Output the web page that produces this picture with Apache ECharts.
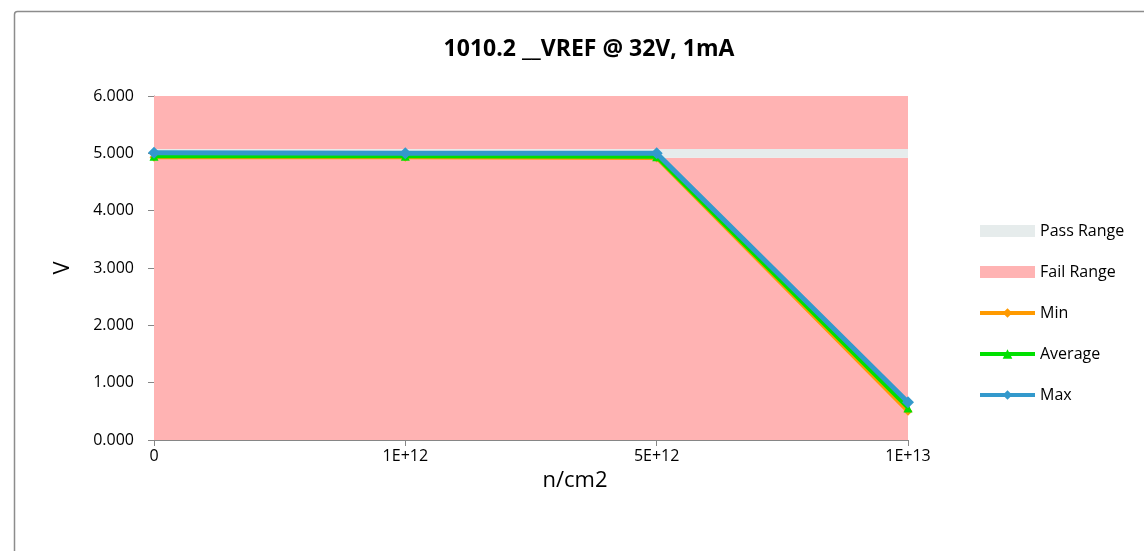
<!DOCTYPE html>
<html>
<head>
<meta charset="utf-8">
<script src="https://cdn.jsdelivr.net/npm/echarts@6/dist/echarts.min.js"></script>
<style>html,body{margin:0;padding:0;background:#fff}#c{width:1144px;height:551px}</style>
</head>
<body>
<div id="c"></div>
<script>
var categories = ['0', '1E+12', '5E+12', '1E+13'];
var failLower = [4.925, 4.925, 4.925, 4.925];
var passBand = [0.15, 0.15, 0.15, 0.15];
var failUpper = [0.925, 0.925, 0.925, 0.925];
var minVals = [4.93, 4.93, 4.92, 0.50];
var avgVals = [4.95, 4.95, 4.94, 0.56];
var maxVals = [5.01, 5.00, 5.00, 0.66];
var yTicks = [0, 1, 2, 3, 4, 5, 6];

var FONT = '"Open Sans", Lato, sans-serif';
var chart = echarts.init(document.getElementById('c'), null, {renderer: 'canvas'});
chart.setOption({
  animation: false,
  backgroundColor: '#fff',
  graphic: [{
    type: 'rect', left: 12, top: 9, z: -10,
    shape: {width: 1150, height: 560, r: 3},
    style: {fill: 'none', stroke: '#8c8c8c', lineWidth: 1.5}
  }],
  title: {
    text: '1010.2 __VREF @ 32V, 1mA',
    left: 584, top: 33, textAlign: 'center',
    textStyle: {fontFamily: FONT, fontWeight: 'bold', fontSize: 23, color: '#000'}
  },
  grid: {left: 154, right: 236, top: 96, bottom: 111, containLabel: false},
  legend: {
    orient: 'vertical', left: 973, top: 218, itemGap: 25,
    itemWidth: 55, itemHeight: 12,
    textStyle: {fontFamily: FONT, fontSize: 16, color: '#000'},
    data: [
      {name: 'Pass Range', icon: 'rect', itemStyle: {color: '#E6ECEC'}},
      {name: 'Fail Range', icon: 'rect', itemStyle: {color: '#FFB3B3'}},
      {name: 'Min', lineStyle: {width: 4}},
      {name: 'Average', lineStyle: {width: 4}},
      {name: 'Max', lineStyle: {width: 4}}
    ]
  },
  xAxis: {
    type: 'category', data: categories, boundaryGap: false,
    name: 'n/cm2', nameLocation: 'middle', nameGap: 30,
    nameTextStyle: {fontFamily: FONT, fontSize: 22, color: '#000', padding: [0, 0, 0, 88]},
    axisLine: {lineStyle: {color: '#868686', width: 1}},
    axisTick: {show: true, length: 6, lineStyle: {color: '#868686'}},
    axisLabel: {fontFamily: FONT, fontSize: 16, color: '#000', margin: 8},
    splitLine: {show: false}
  },
  yAxis: {
    type: 'value', min: 0, max: 6, interval: 1,
    name: 'V', nameLocation: 'middle', nameGap: 80, nameRotate: 90,
    nameTextStyle: {fontFamily: FONT, fontSize: 22, color: '#000'},
    axisLine: {show: true, lineStyle: {color: '#868686', width: 1}},
    axisTick: {show: true, length: 6, lineStyle: {color: '#868686'}},
    axisLabel: {fontFamily: FONT, fontSize: 16, color: '#000', margin: 20,
      formatter: function (v) { return yTicks.indexOf(v) >= 0 ? v.toFixed(3) : ''; }},
    splitLine: {show: false}
  },
  series: [
    {name: 'Fail Range', type: 'line', stack: 'band', data: failLower, symbol: 'none',
     lineStyle: {width: 0}, areaStyle: {color: '#FFB3B3', opacity: 1}, itemStyle: {color: '#FFB3B3'}, z: 1},
    {name: 'Pass Range', type: 'line', stack: 'band', data: passBand, symbol: 'none',
     lineStyle: {width: 0}, areaStyle: {color: '#E6ECEC', opacity: 1}, itemStyle: {color: '#E6ECEC'}, z: 1},
    {name: 'Fail Range', type: 'line', stack: 'band', data: failUpper, symbol: 'none',
     lineStyle: {width: 0}, areaStyle: {color: '#FFB3B3', opacity: 1}, itemStyle: {color: '#FFB3B3'}, z: 1},
    {name: 'Min', type: 'line', data: minVals, symbol: 'diamond', symbolSize: 9,
     lineStyle: {color: '#FF9A00', width: 4}, itemStyle: {color: '#FF9A00'}, z: 3},
    {name: 'Average', type: 'line', data: avgVals, symbol: 'triangle', symbolSize: 9,
     lineStyle: {color: '#00E000', width: 4}, itemStyle: {color: '#00E000'}, z: 4},
    {name: 'Max', type: 'line', data: maxVals, symbol: 'diamond', symbolSize: 12,
     lineStyle: {color: '#3399CC', width: 5}, itemStyle: {color: '#3399CC'}, z: 5}
  ]
});
</script>
</body>
</html>
